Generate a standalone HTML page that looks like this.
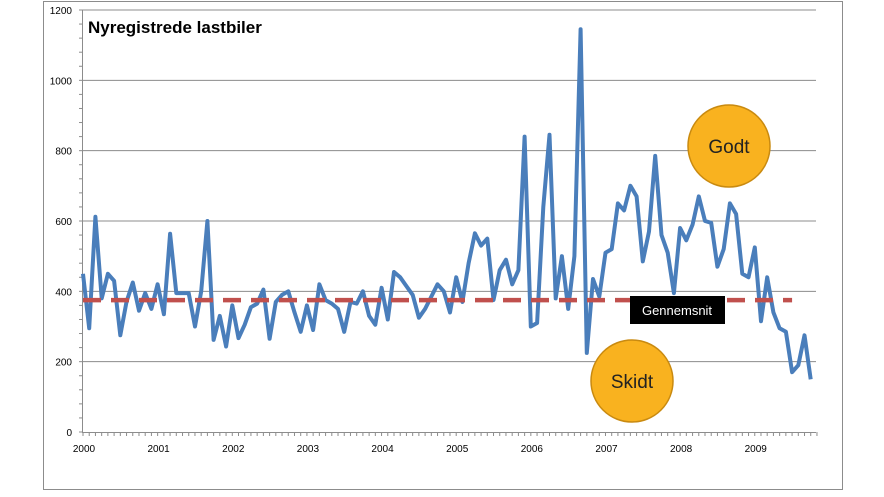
<!DOCTYPE html>
<html><head><meta charset="utf-8"><style>
body{margin:0;background:#fff;width:884px;height:492px;overflow:hidden}
svg text{font-family:"Liberation Sans",sans-serif}
</style></head><body>
<svg id="c" width="884" height="492" xmlns="http://www.w3.org/2000/svg">
<rect x="43.5" y="1.5" width="799" height="488" fill="#fff" stroke="#8c8c8c"/>
<g id="grid"></g><g id="axes"></g><g id="series"></g>
<text x="88" y="33" font-size="17" font-weight="bold" fill="#000">Nyregistrede lastbiler</text>
<g><circle cx="729" cy="146" r="41" fill="#F9B21F" stroke="#C98A10" stroke-width="1.5"/><text x="729" y="153" font-size="19" text-anchor="middle" fill="#222">Godt</text></g>
<g><circle cx="632" cy="381" r="41" fill="#F9B21F" stroke="#C98A10" stroke-width="1.5"/><text x="632" y="388" font-size="19" text-anchor="middle" fill="#222">Skidt</text></g>
<g><rect x="630" y="296" width="95" height="28" fill="#000"/><text x="677" y="315" font-size="13" text-anchor="middle" fill="#fff">Gennemsnit</text></g>
</svg>
<script>
const years=["2000","2001","2002","2003","2004","2005","2006","2007","2008","2009"];
const yTicks=[0,200,400,600,800,1000,1200];
const values=[450,295,612,380,450,430,275,370,425,345,395,350,
420,335,564,395,395,395,300,400,600,262,330,243,
360,267,305,355,365,405,265,370,390,400,340,285,
360,290,420,375,365,350,285,370,365,400,330,305,
410,320,455,440,415,390,325,350,385,420,400,340,
440,370,480,565,530,550,375,460,490,420,460,840,
300,310,640,845,380,500,350,500,1145,225,435,385,
510,520,650,630,700,670,485,570,785,560,510,395,
580,545,590,670,600,595,470,520,650,620,450,440,
525,315,440,340,295,285,170,190,275,150];
const average=[375];
const NS="http://www.w3.org/2000/svg";
const X0=83,MPX=6.22,Y0=432,YS=422/1200,XR=816;
const x=i=>X0+i*MPX, y=v=>Y0-v*YS;
function mk(t,a,p){const e=document.createElementNS(NS,t);for(const k in a)e.setAttribute(k,a[k]);document.getElementById(p).appendChild(e);return e;}
yTicks.forEach(v=>{
 if(v>0){const g=mk('line',{x1:82,x2:XR,y1:y(v),y2:y(v),stroke:'#8c8c8c','stroke-width':1},'grid');
 
 }
 const t=mk('text',{x:72,y:y(v)+4,'font-size':10,'text-anchor':'end',fill:'#000'},'axes');
 
 
 t.textContent=v;
});
for(let v=0;v<=1200;v+=40){mk('line',{x1:79,x2:82,y1:y(v),y2:y(v),stroke:'#8c8c8c'},'axes');}
mk('line',{x1:82.5,x2:82.5,y1:y(1200),y2:Y0,stroke:'#8c8c8c'},'axes');
mk('line',{x1:82,x2:XR,y1:Y0+.5,y2:Y0+.5,stroke:'#8c8c8c'},'axes');
for(let i=0;i<=118;i++){mk('line',{x1:x(i),x2:x(i),y1:Y0,y2:Y0+4,stroke:'#8c8c8c'},'axes');}
years.forEach((yr,k)=>{
 const t=mk('text',{x:x(k*12)+1,y:452,'font-size':10,'text-anchor':'middle',fill:'#000'},'axes');
 
 
 t.textContent=yr;
});
const pts=values.map((v,i)=>x(i).toFixed(1)+','+y(v).toFixed(1)).join(' ');
const ln=mk('polyline',{points:pts,fill:'none',stroke:'#4A7EBB','stroke-width':4,'stroke-linejoin':'round'},'series');


const avg=mk('line',{x1:x(0),x2:x(114),y1:y(average[0]),y2:y(average[0]),stroke:'#C0504D','stroke-width':4.5,'stroke-dasharray':'18 10'},'series');


</script>
</body></html>
